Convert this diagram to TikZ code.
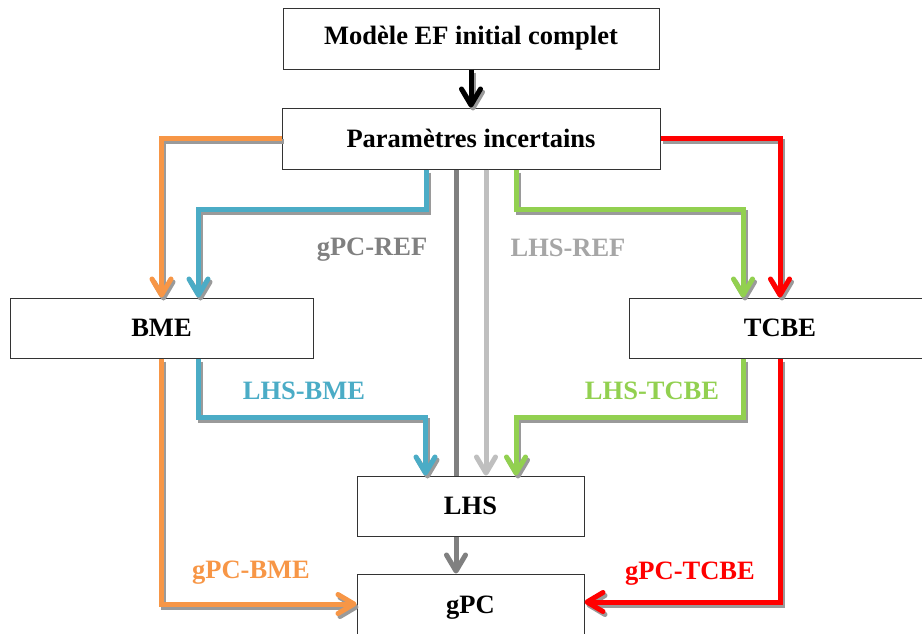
\documentclass[tikz,border=0pt]{standalone}
\usepackage{fontspec}
\setmainfont{Liberation Serif}
\usetikzlibrary{arrows.meta,calc}
\definecolor{cOrange}{HTML}{F79646}
\definecolor{cBlue}{HTML}{4BACC6}
\definecolor{cGreen}{HTML}{92D050}
\definecolor{cRed}{HTML}{FF0000}
\definecolor{cDark}{HTML}{808080}
\definecolor{cLight}{HTML}{BFBFBF}
\definecolor{cLightTxt}{HTML}{A6A6A6}
\definecolor{cShadow}{HTML}{9A9A9A}
\tikzset{
  box/.style={draw=black!80, line width=1pt, fill=white, inner sep=0pt,
    font=\fontsize{26.5}{30}\selectfont\bfseries},
  lbl/.style={font=\fontsize{26.5}{30}\selectfont\bfseries, inner sep=0pt},
  tipped/.style={-{Straight Barb[length=16pt,width=19pt,round]}},
  conn/.style={line width=5pt, line join=miter},
  shad/.style={conn, draw=cShadow, transform canvas={shift={(2pt,-3pt)}}},
}
\begin{document}
\begin{tikzpicture}[x=1pt,y=-1pt]
\useasboundingbox (0,0) rectangle (922,633);
\clip (0,0) rectangle (922,633);
% boxes
\node[box, minimum width=376pt, minimum height=61pt] (mod) at (471,38.5) {Modèle EF initial complet};
\node[box, minimum width=378pt, minimum height=61pt] (par) at (471,138.5) {Paramètres incertains};
\node[box, minimum width=303pt, minimum height=60pt] (bme) at (161.5,328) {BME};
\node[box, minimum width=302pt, minimum height=60pt] (tcbe) at (780,328) {TCBE};
\node[box, minimum width=227pt, minimum height=60pt] (lhs) at (470.5,506) {LHS};
\node[box, minimum width=227pt, minimum height=68pt] (gpc) at (470.5,608) {gPC};

% shadows
\draw[shad, tipped] (mod.south) -- (par.north);
\draw[shad, tipped] (par.west) -| (bme.north);
\draw[shad, tipped] ([xshift=-45pt]par.south) -- ++(0,40) -| ([xshift=37pt]bme.north);
\draw[shad, tipped] ([xshift=45pt]par.south) -- ++(0,40) -| ([xshift=-37pt]tcbe.north);
\draw[shad, tipped] (par.east) -| (tcbe.north);
\draw[shad, tipped] ([xshift=37pt]bme.south) -- ++(0,59) -| ([xshift=-45pt]lhs.north);
\draw[shad, tipped] ([xshift=-37pt]tcbe.south) -- ++(0,59) -| ([xshift=45.5pt]lhs.north);
\draw[shad, tipped] (bme.south) |- ([yshift=4pt]gpc.west);
\draw[shad, tipped] (tcbe.south) |- ([yshift=6pt]gpc.east);

% connectors
\draw[conn, tipped, black] (mod.south) -- (par.north);
\draw[conn, tipped, cOrange] (par.west) -| (bme.north);
\draw[conn, tipped, cBlue] ([xshift=-45pt]par.south) -- ++(0,40) -| ([xshift=37pt]bme.north);
\draw[conn, cDark] ([xshift=-15pt]par.south) -- ([xshift=-14.5pt]lhs.north);
\draw[conn, tipped, cDark] ([xshift=-14.5pt]lhs.south) -- ([xshift=-14.5pt]gpc.north);
\draw[conn, tipped, cLight] ([xshift=15pt]par.south) -- ([xshift=15.5pt]lhs.north);
\draw[conn, tipped, cGreen] ([xshift=45pt]par.south) -- ++(0,40) -| ([xshift=-37pt]tcbe.north);
\draw[conn, tipped, cRed] (par.east) -| (tcbe.north);
\draw[conn, tipped, cBlue] ([xshift=37pt]bme.south) -- ++(0,59) -| ([xshift=-45pt]lhs.north);
\draw[conn, tipped, cGreen] ([xshift=-37pt]tcbe.south) -- ++(0,59) -| ([xshift=45.5pt]lhs.north);
\draw[conn, tipped, cOrange] (bme.south) |- ([yshift=4pt]gpc.west);
\draw[conn, tipped, cRed] (tcbe.south) |- ([yshift=6pt]gpc.east);

% labels
\node[lbl, text=cDark] (l1) at (372,250) {gPC-REF};
\node[lbl, text=cLightTxt] (l2) at (568,248) {LHS-REF};
\node[lbl, text=cBlue] (l3) at (304,391) {LHS-BME};
\node[lbl, text=cGreen] (l4) at (652,391) {LHS-TCBE};
\node[lbl, text=cOrange] (l5) at (251,573) {gPC-BME};
\node[lbl, text=cRed] (l6) at (690,574) {gPC-TCBE};
\end{tikzpicture}
\end{document}
